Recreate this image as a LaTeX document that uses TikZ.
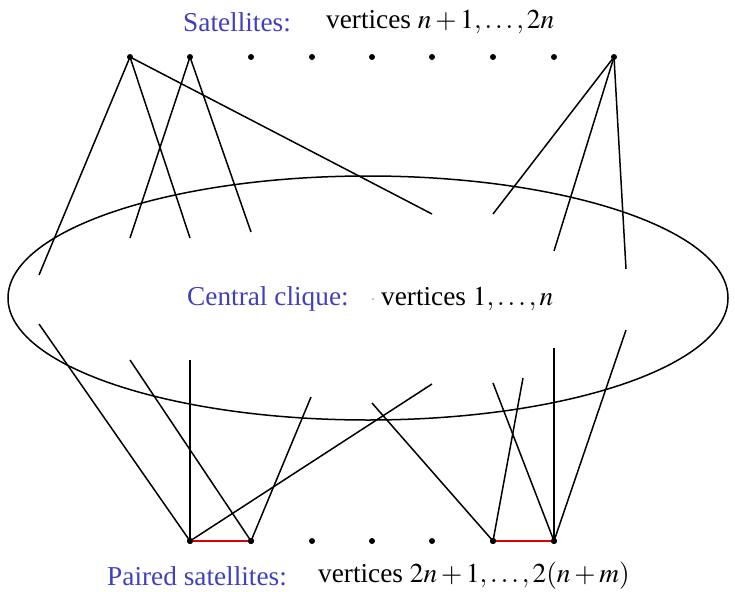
\documentclass[tikz,border=0pt]{standalone}
\usepackage{mathptmx}
\usepackage{fontspec}
\setmainfont{Liberation Serif}
\definecolor{lblblue}{RGB}{64,64,191}
\definecolor{pairred}{RGB}{220,0,0}
\begin{document}
\begin{tikzpicture}[x=1pt,y=-1pt,
  vdot/.style={circle,fill=black,inner sep=0pt,minimum size=6pt},
  edge/.style={line width=1.5pt},
  pair/.style={line width=1.5pt,draw=pairred},
  lbl/.style={anchor=west,inner sep=0pt,font=\fontsize{27.3}{32}\selectfont},
  bluelbl/.style={lbl,text=lblblue}]
\useasboundingbox (0,0) rectangle (735,591);
% ellipse
\draw[edge] (368,298) ellipse [x radius=360, y radius=122];
% top dots
\foreach \x/\n in {130/t1,190/t2,251/t3,312/t4,372/t5,432/t6,493/t7,554/t8,614/t9}
  \node[vdot] (\n) at (\x,57) {};
% bottom dots
\foreach \x/\n in {190/b1,251/b2,312/b3,372/b4,432/b5,493/b6,554/b7}
  \node[vdot] (\n) at (\x,541) {};
% free ends inside ellipse
\coordinate (e1) at (39,275);
\coordinate (e2) at (190,238);
\coordinate (e3) at (432,214);
\coordinate (e4) at (130,238);
\coordinate (e5) at (251,232);
\coordinate (e6) at (493,214);
\coordinate (e7) at (554,251);
\coordinate (e8) at (626,269);
\coordinate (f1) at (39,324);
\coordinate (f2) at (190,360);
\coordinate (f3) at (432,384);
\coordinate (f4) at (130,360);
\coordinate (f5) at (311,397);
\coordinate (f6) at (372,403);
\coordinate (f7) at (523,378);
\coordinate (f8) at (493,383);
\coordinate (f9) at (554,348);
\coordinate (f10) at (626,330);
% top connectors
\draw[edge] (t1.center) -- (e1);
\draw[edge] (t1.center) -- (e2);
\draw[edge] (t1.center) -- (e3);
\draw[edge] (t2.center) -- (e4);
\draw[edge] (t2.center) -- (e5);
\draw[edge] (t9.center) -- (e6);
\draw[edge] (t9.center) -- (e7);
\draw[edge] (t9.center) -- (e8);
% bottom connectors
\draw[edge] (b1.center) -- (f1);
\draw[edge] (b1.center) -- (f2);
\draw[edge] (b1.center) -- (f3);
\draw[edge] (b2.center) -- (f4);
\draw[edge] (b2.center) -- (f5);
\draw[edge] (b6.center) -- (f6);
\draw[edge] (b6.center) -- (f7);
\draw[edge] (b7.center) -- (f8);
\draw[edge] (b7.center) -- (f9);
\draw[edge] (b7.center) -- (f10);
% paired
\draw[pair] (b1.center) -- (b2.center);
\draw[pair] (b6.center) -- (b7.center);
\node[vdot] at (b1) {};
\node[vdot] at (b2) {};
\node[vdot] at (b6) {};
\node[vdot] at (b7) {};
% labels
\node[bluelbl] (sl) at (183,22) {Satellites:};
\node[lbl] (sv) at (326,22) {vertices $n+1,\ldots,2n$};
\node[bluelbl] (cl) at (187,299) {Central clique:};
\node[circle,fill=black,inner sep=0pt,minimum size=1.2pt] (cd) at (373,299) {};
\node[lbl] (cv) at (381,299) {vertices $1,\ldots,n$};
\node[bluelbl] (pl) at (107,576) {Paired satellites:};
\node[lbl] (pv) at (318,576) {vertices $2n+1,\ldots,2(n+m)$};
\end{tikzpicture}
\end{document}
